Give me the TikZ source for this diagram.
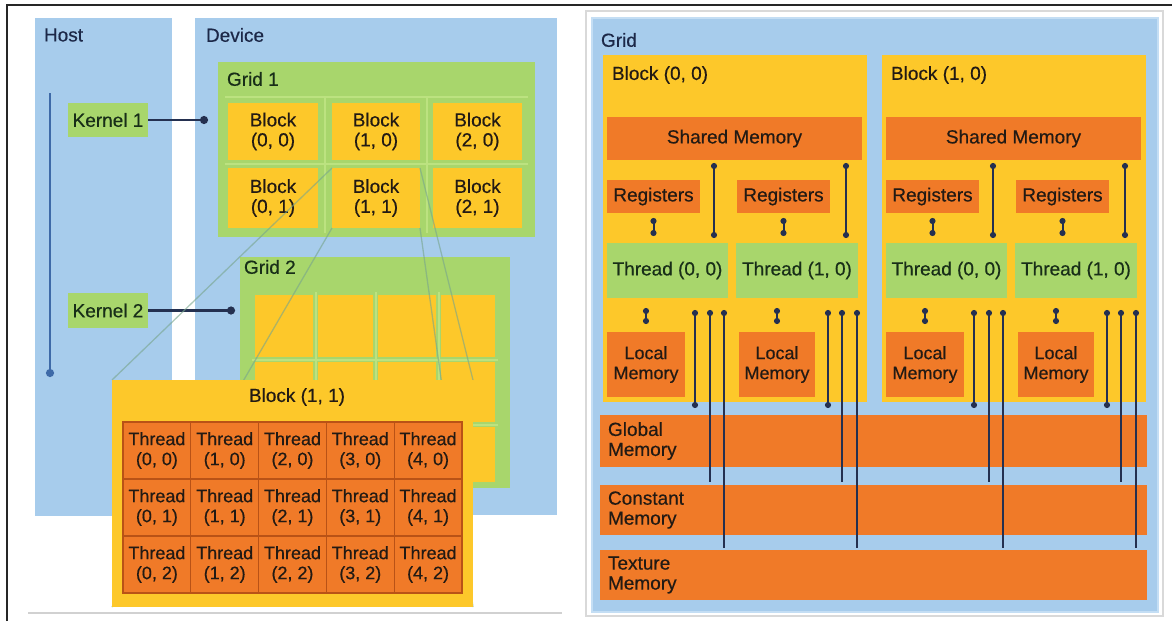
\documentclass[tikz,border=0pt]{standalone}
\usepackage{fontspec}
\setmainfont{Liberation Sans}[FakeBold=0.45]
\usetikzlibrary{arrows.meta}
\definecolor{lblue}{RGB}{167,204,236}
\definecolor{lblueb}{RGB}{196,222,244}
\definecolor{grn}{RGB}{168,214,108}
\definecolor{grnl}{RGB}{188,226,128}
\definecolor{ylw}{RGB}{253,200,42}
\definecolor{org}{RGB}{240,122,40}
\definecolor{orgd}{RGB}{185,82,22}
\definecolor{navy}{RGB}{28,40,72}
\definecolor{conn}{RGB}{36,48,80}
\definecolor{txt}{RGB}{34,26,20}
\definecolor{gtxt}{RGB}{24,46,24}
\definecolor{hblue}{RGB}{62,106,168}
\definecolor{persp}{RGB}{120,165,140}
\newcommand\fA{\fontsize{19}{20}\selectfont}
\newcommand\fB{\fontsize{18}{20}\selectfont}
\newcommand\rbox[7]{\node[#6, minimum width={(#4)-(#2)}, minimum height={(#5)-(#3)}] (#1) at ({((#2)+(#4))/2},{((#3)+(#5))/2}) {#7};}
\tikzset{
  every node/.style={inner sep=0pt, outer sep=0pt},
  box/.style={fill=#1, draw=none},
  tA/.style={font=\fA, align=center, text=txt},
  tB/.style={font=\fB, align=center, text=txt},
  tG/.style={font=\fA, align=center, text=gtxt},
  tN/.style={font=\fA, text=navy},
  kconn/.style={draw=conn, line width=2.6, -{Circle[length=8pt,width=8pt]}},
  mline/.style={draw=conn, line width=2},
  dots/.style={{Circle[length=6pt,width=6pt]}-{Circle[length=6pt,width=6pt]}},
  dotstart/.style={{Circle[length=6pt,width=6pt]}-},
  gline/.style={draw=grnl, line width=2},
  pline/.style={draw=persp, line width=1.3, opacity=0.6},
}
\begin{document}
\begin{tikzpicture}[x=1pt,y=-1pt]
\useasboundingbox (0,0) rectangle (1172,621);
\fill[white] (0,0) rectangle (1172,621);
% frame
\draw[black!85, line width=2] (7,621) -- (7,5) -- (1172,5);
\draw[black!18, line width=1.2] (28,613) -- (562,613);
\draw[black!15, line width=1.2] (586,11) rectangle (1163,616);

% ================= LEFT PANEL =================
\rbox{host}{35}{18}{172}{516}{box=lblue}{}
\rbox{dev}{195}{18}{557}{515}{box=lblue}{}
\node[tN, anchor=west] (hostl) at (44,35) {Host};
\node[tN, anchor=west] (devl) at (206,35) {Device};
\coordinate (hs) at (50,93);
\coordinate (he) at (50,377);
\draw[hblue, line width=2.6, -{Circle[length=8pt,width=8pt]}] (hs) -- (he);

\rbox{k1}{68}{103}{148}{137}{box=grn, tG}{Kernel 1}
\rbox{k2}{68}{293}{148}{328}{box=grn, tG}{Kernel 2}

% Grid 1
\rbox{g1}{218}{62}{535}{237}{box=grn}{}
\node[tG, anchor=west] (g1l) at (227,79) {Grid 1};
\draw[gline] (225,97) -- (528,97);
\draw[gline] (325,97) -- (325,233);
\draw[gline] (427,97) -- (427,233);
\draw[gline] (225,164) -- (528,164);
\foreach \c/\xa/\xb in {0/228/318,1/332/420,2/433/522}{
  \foreach \r/\ya/\yb in {0/103/160,1/168/228}{
    \rbox{b\c\r}{\xa}{\ya}{\xb}{\yb}{box=ylw, tA}{Block\\(\c, \r)}
  }
}

% Grid 2
\rbox{g2}{240}{257}{510}{488}{box=grn}{}
\node[tG, anchor=west] (g2l) at (244,267) {Grid 2};
\foreach \c/\xa/\xb in {0/255/313,1/318/373,2/378/436,3/441/495}{
  \foreach \r/\ya/\yb in {0/295/357,1/362/422,2/427/482}{
    \rbox{gc\c\r}{\xa}{\ya}{\xb}{\yb}{box=ylw}{}
  }
}
\draw[gline] (252,359.5) -- (498,359.5);
\draw[gline] (252,424.5) -- (498,424.5);
\draw[gline] (315.5,292) -- (315.5,485);
\draw[gline] (375.5,292) -- (375.5,485);
\draw[gline] (438.5,292) -- (438.5,485);

% kernel connectors
\draw[kconn, shorten >=10pt] (k1.east) -- (k1.east -| g1.west);
\draw[kconn, shorten >=5pt] (k2.east) -- (k2.east -| g2.west);

% expanded block (1,1)
\coordinate (bbnw) at (112,380);
\coordinate (bbne) at (473,380);
\coordinate (bbsw) at (112,607);
\coordinate (bbse) at (473,607);
\draw[pline] (b11.north west) -- (bbnw);
\draw[pline] (b11.south west) -- (bbsw);
\draw[pline] (b11.north east) -- (bbne);
\draw[pline] (b11.south east) -- (bbse);
\rbox{bb}{112}{380}{473}{607}{box=ylw}{}
\node[tA] (bbl) at (297,397) {Block (1, 1)};
\rbox{tg}{123}{422}{462}{593}{fill=org, draw=orgd, line width=1.4}{}
\foreach \c in {0,...,4}{
  \foreach \r in {0,1,2}{
    \pgfmathsetmacro\xa{123+67.8*\c}
    \pgfmathsetmacro\xb{123+67.8*(\c+1)}
    \pgfmathsetmacro\ya{422+57*\r}
    \pgfmathsetmacro\yb{422+57*(\r+1)}
    \rbox{t\c\r}{\xa}{\ya}{\xb}{\yb}{fill=org, draw=orgd, line width=1.1, tB}{Thread\\(\c, \r)}
  }
}

% ================= RIGHT PANEL =================
\rbox{rp}{592}{18}{1158}{612}{box=lblue, draw=lblueb, line width=2.5}{}
\node[tN, anchor=west] (rpl) at (601,40) {Grid};
\rbox{gm}{600}{415}{1147}{467}{box=org}{}
\rbox{cm}{600}{485}{1147}{535}{box=org}{}
\rbox{tm}{600}{550}{1147}{600}{box=org}{}
\node[tA, anchor=west, align=left] (gml) at (608,441) {Global\\Memory};
\node[tA, anchor=west, align=left] (cml) at (608,510) {Constant\\Memory};
\node[tA, anchor=west, align=left] (tml) at (608,575) {Texture\\Memory};

\foreach \b/\o in {0/0,1/279}{
  \begin{scope}[xshift=\o]
  \rbox{blk\b}{603}{55}{867}{402}{box=ylw}{}
  \node[tA, anchor=west] (blkl\b) at (612,75) {Block (\b, 0)};
  \rbox{sm\b}{607}{117}{862}{160}{box=org, tA}{Shared Memory}
  \rbox{rga\b}{607}{180}{700}{213}{box=org, tA}{Registers}
  \rbox{rgb\b}{737}{180}{830}{213}{box=org, tA}{Registers}
  \rbox{tha\b}{607}{243}{728}{298}{box=grn, tG}{Thread (0, 0)}
  \rbox{thb\b}{736}{243}{858}{298}{box=grn, tG}{Thread (1, 0)}
  \rbox{lma\b}{607}{332}{685}{397}{box=org, tB}{Local\\Memory}
  \rbox{lmb\b}{739}{332}{815}{397}{box=org, tB}{Local\\Memory}
  % connectors
  \coordinate (sa\b) at (714,0);
  \coordinate (sb\b) at (846,0);
  \coordinate (xa1\b) at (695,0);
  \coordinate (xa2\b) at (710,0);
  \coordinate (xa3\b) at (724,0);
  \coordinate (xb1\b) at (828,0);
  \coordinate (xb2\b) at (842,0);
  \coordinate (xb3\b) at (857,0);
  \draw[mline, dots, shorten <=5pt, shorten >=7pt] (rga\b.south) -- (rga\b.south |- tha\b.north);
  \draw[mline, dots, shorten <=5pt, shorten >=7pt] (rgb\b.south) -- (rgb\b.south |- thb\b.north);
  \draw[mline, dots, shorten <=3pt, shorten >=5pt] (sm\b.south -| sa\b) -- (tha\b.north -| sa\b);
  \draw[mline, dots, shorten <=3pt, shorten >=5pt] (sm\b.south -| sb\b) -- (thb\b.north -| sb\b);
  \draw[mline, dots, shorten <=10pt, shorten >=8pt] (tha\b.south -| lma\b.north) -- (lma\b.north);
  \draw[mline, dots, shorten <=10pt, shorten >=8pt] (thb\b.south -| lmb\b.north) -- (lmb\b.north);
  \draw[mline, dots, shorten <=12pt, shorten >=7pt] (tha\b.south -| xa1\b) -- (gm.north -| xa1\b);
  \draw[mline, dotstart, shorten <=12pt, shorten >=3pt] (tha\b.south -| xa2\b) -- (cm.north -| xa2\b);
  \draw[mline, dotstart, shorten <=12pt, shorten >=2pt] (tha\b.south -| xa3\b) -- (tm.north -| xa3\b);
  \draw[mline, dots, shorten <=12pt, shorten >=7pt] (thb\b.south -| xb1\b) -- (gm.north -| xb1\b);
  \draw[mline, dotstart, shorten <=12pt, shorten >=3pt] (thb\b.south -| xb2\b) -- (cm.north -| xb2\b);
  \draw[mline, dotstart, shorten <=12pt, shorten >=2pt] (thb\b.south -| xb3\b) -- (tm.north -| xb3\b);
  \end{scope}
}
\end{tikzpicture}
\end{document}
